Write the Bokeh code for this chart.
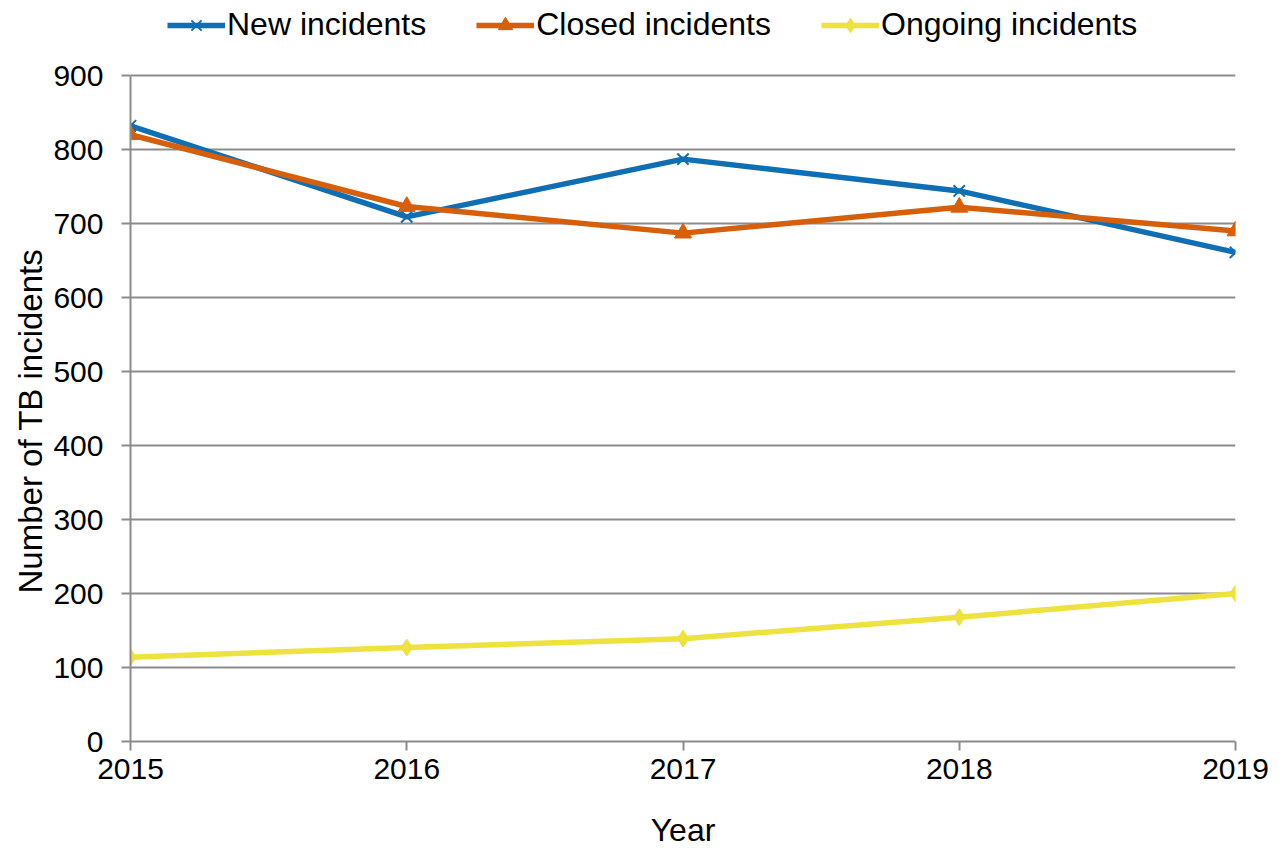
from bokeh.plotting import figure
from bokeh.models import Legend, LegendItem, FixedTicker, Range1d, Title
from bokeh.embed import file_html
from bokeh.resources import INLINE

years = [2015, 2016, 2017, 2018, 2019]
new_incidents = [832, 709, 787, 744, 661]
closed_incidents = [820, 723, 687, 722, 690]
ongoing_incidents = [114, 127, 139, 168, 200]
y_ticks = [0, 100, 200, 300, 400, 500, 600, 700, 800, 900]

FONT = "Liberation Sans"
GRID = "#8c8c8c"
FS = "30px"

# frame runs from canvas top (0) to 741 px; value 900 sits at 75 px
Y_TOP = 900 * 741 / 666

p = figure(width=1285, height=850, output_backend="svg", toolbar_location=None,
           x_range=Range1d(2015, 2019), y_range=Range1d(0, Y_TOP),
           min_border_left=130, min_border_right=50, min_border_top=0, min_border_bottom=109)
p.outline_line_color = None
p.background_fill_color = "white"

series = [
    ("New incidents", new_incidents, "#0f6fb5", "x"),
    ("Closed incidents", closed_incidents, "#d65f0b", "triangle"),
    ("Ongoing incidents", ongoing_incidents, "#ede23e", "diamond"),
]
items = []
for name, vals, col, mk in series:
    r1 = p.line(years, vals, line_color=col, line_width=5.5)
    if mk == "x":
        r2 = p.scatter(years, vals, marker="x", size=16, line_color=col, line_width=2)
    else:
        r2 = p.scatter(years, vals, marker=mk, size=17, fill_color=col, line_color=col)
    items.append(LegendItem(label=name, renderers=[r1, r2]))

legend = Legend(items=items, orientation="horizontal", location=(37, 698),
                label_text_font=FONT, label_text_font_size="32px",
                label_text_color="black", glyph_width=58, glyph_height=36,
                label_height=36, spacing=50, border_line_color=None,
                background_fill_alpha=0, margin=0, padding=0, label_standoff=2)
p.add_layout(legend, "center")

p.xaxis.ticker = FixedTicker(ticks=years)
p.yaxis.ticker = FixedTicker(ticks=y_ticks)
p.yaxis.bounds = (0, 900)
p.xgrid.grid_line_color = None
p.ygrid.grid_line_color = GRID
p.ygrid.grid_line_width = 2

for ax in (p.xaxis, p.yaxis):
    ax.axis_line_color = GRID
    ax.axis_line_width = 2
    ax.major_tick_line_color = GRID
    ax.major_tick_line_width = 2
    ax.major_tick_out = 9
    ax.major_tick_in = 0
    ax.minor_tick_line_color = None
    ax.major_label_text_font = FONT
    ax.major_label_text_font_size = FS
    ax.major_label_text_color = "black"
    ax.axis_label_text_font = FONT
    ax.axis_label_text_font_style = "normal"
    ax.axis_label_text_color = "black"

p.xaxis.axis_label = "Year"
p.xaxis.axis_label_text_font_size = "32px"
p.xaxis.major_label_standoff = 8
p.yaxis.major_label_standoff = 18
p.xaxis.axis_label_standoff = 30

ytitle = Title(text="Number of TB incidents", align="left", offset=148,
               text_font=FONT, text_font_size="33px", text_font_style="normal",
               text_color="black", standoff=4)
p.add_layout(ytitle, "left")

open("out.html", "w").write(file_html(p, INLINE))
